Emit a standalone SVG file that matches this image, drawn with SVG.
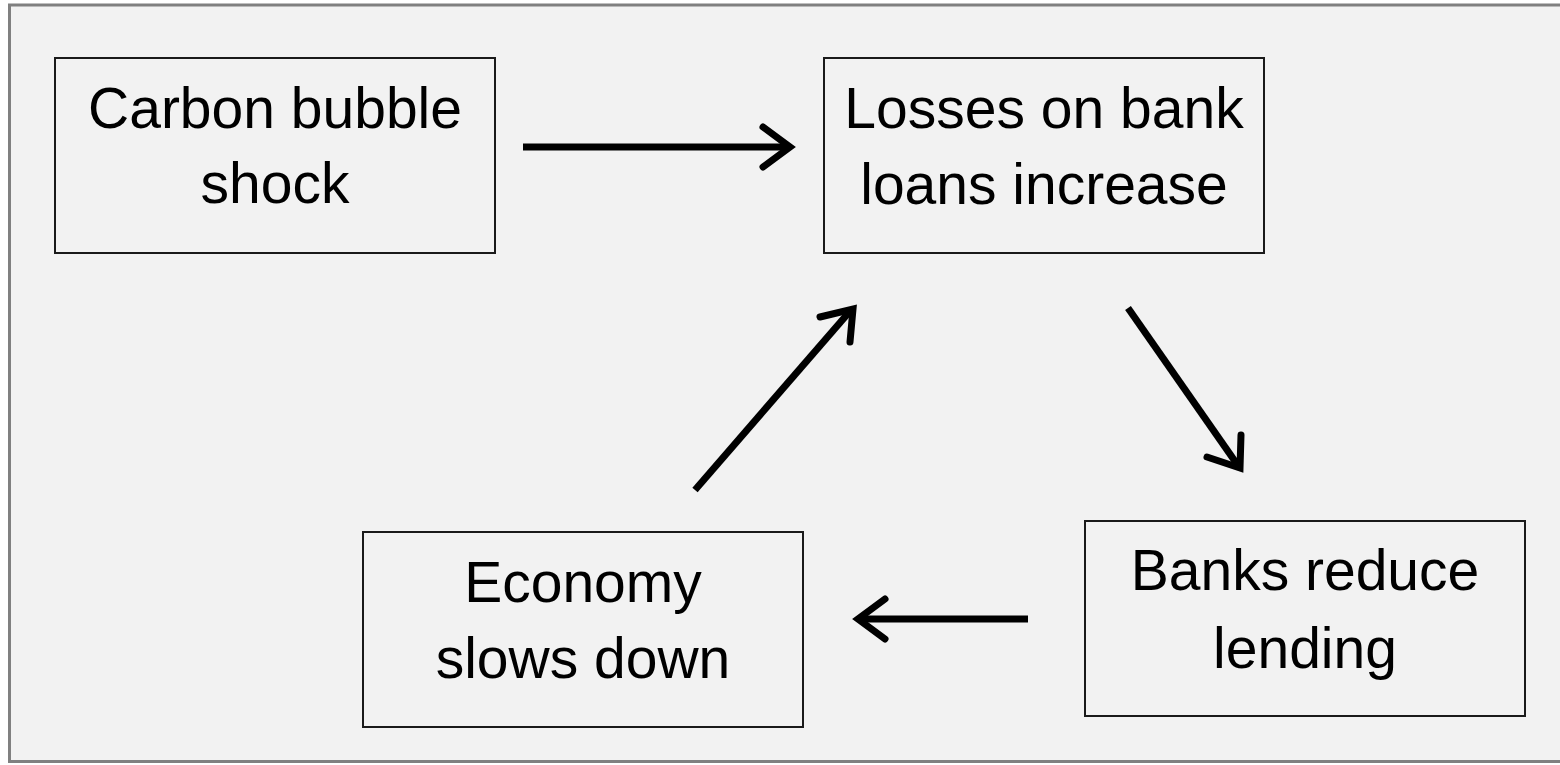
<svg xmlns="http://www.w3.org/2000/svg" width="1560" height="765" viewBox="0 0 1560 765">
<defs>
<style>
.node rect{fill:none;stroke:#1a1a1a;stroke-width:2}
.node text{font-family:"Liberation Sans",Arial,sans-serif;font-size:57px;fill:#000;text-anchor:middle}
.conn path{fill:none;stroke:#000;stroke-width:7;stroke-linecap:round;stroke-linejoin:miter}
.conn path.shaft{stroke-linecap:butt}
</style>
</defs>
<rect x="0" y="0" width="1560" height="765" fill="#ffffff"/>
<rect id="panel" x="9.5" y="5" width="1560" height="756.5" fill="#f2f2f2" stroke="#808080" stroke-width="3"/>
<g id="node-carbon" class="node">
<rect x="55" y="58" width="440" height="195"/>
<text x="275" y="128">Carbon bubble</text>
<text x="275" y="203">shock</text>
</g>
<g id="node-losses" class="node">
<rect x="824" y="58" width="440" height="195"/>
<text x="1044" y="128">Losses on bank</text>
<text x="1044" y="204">loans increase</text>
</g>
<g id="node-banks" class="node">
<rect x="1085" y="521" width="440" height="195"/>
<text x="1305" y="590">Banks reduce</text>
<text x="1305" y="668">lending</text>
</g>
<g id="node-economy" class="node">
<rect x="363" y="532" width="440" height="195"/>
<text x="583" y="602">Economy</text>
<text x="583" y="678">slows down</text>
</g>
<g id="connectors" class="conn">
<path class="shaft" d="M523 147 L789 147"/>
<path d="M763 127 L790 147 L763 167"/>
<path class="shaft" d="M695 490 L851 310"/>
<path d="M820 317 L853 309 L850 342"/>
<path class="shaft" d="M1128 308 L1239 467"/>
<path d="M1207 457 L1240 468 L1241 435"/>
<path class="shaft" d="M1028 619 L860 619"/>
<path d="M885 599 L858 619 L885 639"/>
</g>
</svg>
